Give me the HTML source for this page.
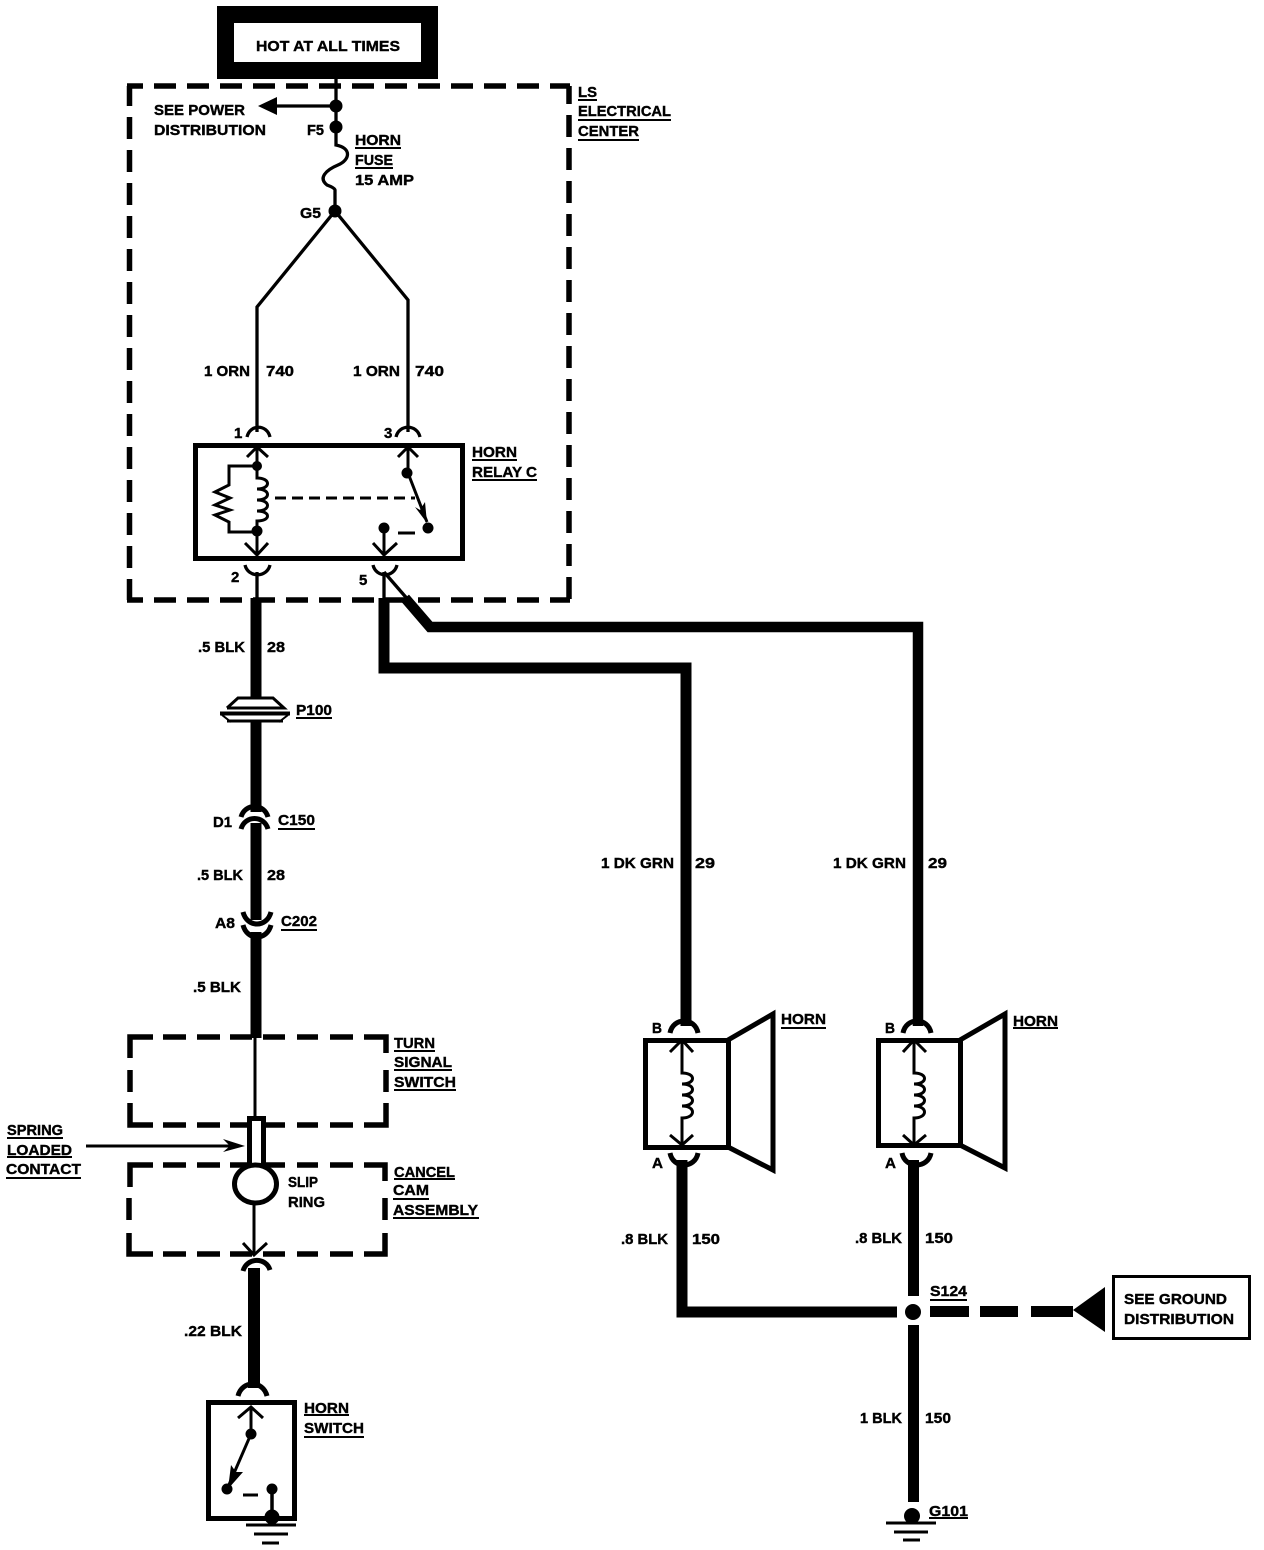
<!DOCTYPE html>
<html><head><meta charset="utf-8"><style>
html,body{margin:0;padding:0;background:#fff}
svg{display:block}
text{font-family:"Liberation Sans",sans-serif;font-weight:bold;font-size:15px;fill:#000;stroke:#000;stroke-width:.4px}
.n{fill:none;stroke:#000;stroke-linejoin:miter}
</style></head><body>
<svg xmlns="http://www.w3.org/2000/svg" width="1264" height="1550" viewBox="0 0 1264 1550">
<rect width="1264" height="1550" fill="#fff"/>

<!-- Hot box -->
<rect x="217" y="6" width="221" height="73"/>
<rect x="234" y="23" width="187" height="39" fill="#fff"/>

<!-- LS Electrical center dashed -->
<g class="n" stroke-width="5.5" fill="none" stroke="#000">
<path d="M127 86H570" stroke-dasharray="22 11" stroke-dashoffset="6"/>
<path d="M127 600H570" stroke-dasharray="22 11" stroke-dashoffset="6"/>
<path d="M129.500 86V600" stroke-dasharray="22 11" stroke-dashoffset="2"/>
<path d="M569 86V600" stroke-dasharray="22 11" stroke-dashoffset="4"/>
</g>

<!-- Feed -->
<g class="n" stroke-width="3.300" fill="none" stroke="#000">
<path d="M336 79V145C352 148 350 160 338 165C326 170 318 178 327 185Q335 188 335 190V211"/>
<path d="M336 106H272"/>
<path d="M257 432V307L335 211L408 300V432"/>
</g>
<polygon points="258,106 277,97 277,115"/>
<circle cx="336" cy="106" r="6.500"/>
<circle cx="336" cy="127" r="6.500"/>
<circle cx="335" cy="211" r="6.500"/>

<!-- Relay connectors -->
<g class="n" stroke-width="3.300" fill="none" stroke="#000">
<path d="M247 437C250 424 267 424 270 437"/>
<path d="M396 437C399 424 417 424 420 437"/>
<path d="M245 565C248 578 267 578 270 565"/>
<path d="M373 565C376 578 394 578 397 565"/>
<path d="M257 572V600"/>
<path d="M384 572V600"/>
<path d="M384 572L410 602"/>
</g>

<!-- Relay -->
<rect class="n" x="195.500" y="445.500" width="267" height="113" stroke-width="5" fill="none" stroke="#000"/>
<g class="n" stroke-width="3" fill="none" stroke="#000">
<path d="M247 457L257 447L268 457M257 447V466"/>
<path d="M257 466H229V485L215 492L230 498L215 505L230 510L215 515L229 522V532H257"/>
<path d="M257 466V478c14 0 14 11 0 11c14 0 14 11 0 11c14 0 14 11 0 11c14 0 14 10 0 10V555"/>
<path d="M245 543L257 555L268 543"/>
<path d="M275 498H415" stroke-dasharray="11 6"/>
<path d="M398 457L408 447L418 457M408 447V473L427 522"/>
<path d="M398 533H415"/>
<path d="M384 528V555M373 543L384 555L397 543"/>
</g>
<polygon points="415,507 427,523 425,502 420,510"/>
<circle cx="257" cy="466" r="5"/>
<circle cx="257" cy="531" r="5.500"/>
<circle cx="407" cy="473" r="5.500"/>
<circle cx="428" cy="528" r="5.500"/>
<circle cx="384" cy="528" r="5.500"/>

<!-- Thick wires -->
<g class="n" fill="none" stroke="#000" stroke-width="11">
<path d="M256 598V697"/>
<path d="M256 722V812"/>
<path d="M256 823V920"/>
<path d="M256 932V1038"/>
<path d="M384 598V668H686V1026"/>
<path d="M405 598L430 627H918V1026" stroke-width="10.500"/>
<path d="M254 1268V1388" stroke-width="12"/>
<path d="M682 1160V1312H897"/>
<path d="M913.500 1160V1296"/>
<path d="M913.500 1325V1502"/>
<path d="M930 1311.500H969M980 1311.500H1018M1031 1311.500H1073"/>
</g>

<!-- P100 -->
<g class="n" fill="none" stroke="#000" stroke-width="3">
<path d="M227 708L238 698H273L284 708H227" fill="#fff"/>
<path d="M220 713.500H290" stroke-width="4"/>
<path d="M227 721H283"/>
<path d="M222 715L231 722M288 715L279 722" stroke-width="2"/>
</g>

<!-- C150 / C202 -->
<g class="n" fill="none" stroke="#000" stroke-width="5">
<path d="M241 817C245 803 264 803 268 817"/>
<path d="M241 829C245 815 264 815 268 829"/>
<path d="M243 912C247 928 267 928 271 912"/>
<path d="M243 925C247 941 267 941 271 925"/>
</g>

<!-- Turn signal switch box -->
<g class="n" fill="none" stroke="#000" stroke-width="5.500">
<path d="M130 1058V1037H153M163 1037H186M197 1037H220M230 1037H252M263 1037H285M297 1037H318M330 1037H353M364 1037H386V1053"/>
<path d="M130 1070V1092M386 1070V1092"/>
<path d="M130 1103V1125H153M163 1125H186M197 1125H220M230 1125H252M263 1125H285M297 1125H318M330 1125H353M364 1125H386V1103"/>
<path d="M130 1187V1165H153M163 1165H186M197 1165H220M230 1165H252M263 1165H285M297 1165H318M330 1165H353M364 1165H385V1181"/>
<path d="M129 1198V1220M385 1198V1220"/>
<path d="M129 1233V1254H153M163 1254H186M197 1254H220M230 1254H252M263 1254H285M297 1254H318M330 1254H353M364 1254H385V1233"/>
</g>
<path class="n" d="M255 1038V1117" stroke-width="3" fill="none" stroke="#000"/>
<rect x="249.500" y="1118.500" width="14" height="50" fill="#fff" stroke="#000" stroke-width="5"/>
<ellipse cx="255.500" cy="1184" rx="21" ry="19" fill="#fff" stroke="#000" stroke-width="5"/>
<path class="n" d="M86 1146H232" stroke-width="3" fill="none" stroke="#000"/>
<polygon points="245,1146 223,1139 230,1146 223,1152"/>
<g class="n" fill="none" stroke="#000" stroke-width="3">
<path d="M254 1204V1254M243 1243L254 1255L267 1243"/>
</g>
<path class="n" d="M243 1271C247 1257 266 1257 270 1270" stroke-width="5" fill="none" stroke="#000"/>

<!-- Horn switch -->
<path class="n" d="M238 1396C242 1380 263 1380 267 1396" stroke-width="5" fill="none" stroke="#000"/>
<rect class="n" x="208.500" y="1402.500" width="86" height="116" stroke-width="5" fill="none" stroke="#000"/>
<g class="n" fill="none" stroke="#000" stroke-width="3">
<path d="M238 1418L251 1407L263 1418M251 1407V1434L228 1487"/>
<path d="M243 1495H258"/>
<path d="M272 1489V1517" stroke-width="3.500"/>
<path d="M246 1525H296M254 1534H288M262 1543H279"/>
</g>
<polygon points="231,1465 236,1472 243,1472 228,1489"/>
<circle cx="251" cy="1434" r="5.500"/>
<circle cx="227" cy="1489" r="5.500"/>
<circle cx="272" cy="1489" r="5.500"/>
<circle cx="272" cy="1517" r="7.500"/>

<!-- Horn 1 -->
<g class="n" fill="none" stroke="#000" stroke-width="5">
<path d="M670 1033C673 1017 695 1017 698 1033"/>
<path d="M670 1153C673 1169 695 1169 698 1153"/>
<rect x="645.500" y="1040.500" width="83" height="107"/>
<path d="M728 1040L773 1014V1170L728 1147"/>
</g>
<g class="n" fill="none" stroke="#000" stroke-width="3">
<path d="M670 1052L682 1040L693 1052"/>
<path d="M682 1040V1073c14 0 14 11 0 11c14 0 14 11 0 11c14 0 14 11 0 11c14 0 14 12 0 12V1145"/>
<path d="M670 1135L682 1145L693 1135"/>
</g>

<!-- Horn 2 -->
<g class="n" fill="none" stroke="#000" stroke-width="5">
<path d="M903 1033C906 1017 928 1017 931 1033"/>
<path d="M902 1153C905 1169 928 1169 931 1153"/>
<rect x="878.500" y="1040.500" width="82" height="105"/>
<path d="M960 1040L1005 1014V1168L960 1145"/>
</g>
<g class="n" fill="none" stroke="#000" stroke-width="3">
<path d="M903 1052L914 1040L926 1052"/>
<path d="M914 1040V1073c14 0 14 11 0 11c14 0 14 11 0 11c14 0 14 11 0 11c14 0 14 12 0 12V1145"/>
<path d="M903 1135L914 1145L926 1135"/>
</g>

<!-- S124 / Ground -->
<circle cx="913" cy="1312" r="8"/>
<polygon points="1073,1310 1105,1287 1105,1332"/>
<rect x="1113.500" y="1276.500" width="136" height="62" fill="#fff" stroke="#000" stroke-width="3"/>
<circle cx="912" cy="1516" r="8"/>
<path class="n" d="M886 1523H936M894 1532H928M903 1540H920" stroke-width="3" fill="none" stroke="#000"/>

<!-- Underlines -->
<path class="n" fill="none" stroke="#000" stroke-width="2" d="M355 148H401M355 168H393M578 100H597M578 120H671M578 140H639M472 460H517M472 480H537M296 718H332M278 829H315M281 930H317M394 1051H435M394 1070H452M394 1090H456M7 1138H63M7 1157H72M6 1178H81M394 1179H455M393 1199H429M393 1218H479M304 1415H349M304 1437H364M781 1028H826M1013 1028H1058M930 1300H967M929 1518H968"/>

<!-- Text -->
<text x="256" y="51" textLength="144" lengthAdjust="spacingAndGlyphs">HOT AT ALL TIMES</text>
<text x="154" y="115" textLength="91" lengthAdjust="spacingAndGlyphs">SEE POWER</text>
<text x="154" y="135" textLength="112" lengthAdjust="spacingAndGlyphs">DISTRIBUTION</text>
<text x="307" y="135" textLength="17" lengthAdjust="spacingAndGlyphs">F5</text>
<text x="355" y="145" textLength="46" lengthAdjust="spacingAndGlyphs">HORN</text>
<text x="355" y="165" textLength="38" lengthAdjust="spacingAndGlyphs">FUSE</text>
<text x="355" y="185" textLength="59" lengthAdjust="spacingAndGlyphs">15 AMP</text>
<text x="300" y="218" textLength="21" lengthAdjust="spacingAndGlyphs">G5</text>
<text x="578" y="97" textLength="19" lengthAdjust="spacingAndGlyphs">LS</text>
<text x="578" y="116" textLength="93" lengthAdjust="spacingAndGlyphs">ELECTRICAL</text>
<text x="578" y="136" textLength="61" lengthAdjust="spacingAndGlyphs">CENTER</text>
<text x="204" y="376" textLength="46" lengthAdjust="spacingAndGlyphs">1 ORN</text>
<text x="266" y="376" textLength="28" lengthAdjust="spacingAndGlyphs">740</text>
<text x="353" y="376" textLength="47" lengthAdjust="spacingAndGlyphs">1 ORN</text>
<text x="415" y="376" textLength="29" lengthAdjust="spacingAndGlyphs">740</text>
<text x="234" y="438">1</text>
<text x="384" y="438">3</text>
<text x="472" y="457" textLength="45" lengthAdjust="spacingAndGlyphs">HORN</text>
<text x="472" y="477" textLength="65" lengthAdjust="spacingAndGlyphs">RELAY C</text>
<text x="231" y="582">2</text>
<text x="359" y="585">5</text>
<text x="198" y="652" textLength="47" lengthAdjust="spacingAndGlyphs">.5 BLK</text>
<text x="267" y="652" textLength="18" lengthAdjust="spacingAndGlyphs">28</text>
<text x="296" y="715" textLength="36" lengthAdjust="spacingAndGlyphs">P100</text>
<text x="213" y="827" textLength="19" lengthAdjust="spacingAndGlyphs">D1</text>
<text x="278" y="825" textLength="37" lengthAdjust="spacingAndGlyphs">C150</text>
<text x="197" y="880" textLength="46" lengthAdjust="spacingAndGlyphs">.5 BLK</text>
<text x="267" y="880" textLength="18" lengthAdjust="spacingAndGlyphs">28</text>
<text x="215" y="928" textLength="20" lengthAdjust="spacingAndGlyphs">A8</text>
<text x="281" y="926" textLength="36" lengthAdjust="spacingAndGlyphs">C202</text>
<text x="193" y="992" textLength="48" lengthAdjust="spacingAndGlyphs">.5 BLK</text>
<text x="394" y="1048" textLength="41" lengthAdjust="spacingAndGlyphs">TURN</text>
<text x="394" y="1067" textLength="58" lengthAdjust="spacingAndGlyphs">SIGNAL</text>
<text x="394" y="1087" textLength="62" lengthAdjust="spacingAndGlyphs">SWITCH</text>
<text x="7" y="1135" textLength="56" lengthAdjust="spacingAndGlyphs">SPRING</text>
<text x="7" y="1155" textLength="65" lengthAdjust="spacingAndGlyphs">LOADED</text>
<text x="6" y="1174" textLength="75" lengthAdjust="spacingAndGlyphs">CONTACT</text>
<text x="288" y="1187" textLength="30" lengthAdjust="spacingAndGlyphs">SLIP</text>
<text x="288" y="1207" textLength="37" lengthAdjust="spacingAndGlyphs">RING</text>
<text x="394" y="1177" textLength="61" lengthAdjust="spacingAndGlyphs">CANCEL</text>
<text x="393" y="1195" textLength="36" lengthAdjust="spacingAndGlyphs">CAM</text>
<text x="393" y="1215" textLength="85" lengthAdjust="spacingAndGlyphs">ASSEMBLY</text>
<text x="184" y="1336" textLength="58" lengthAdjust="spacingAndGlyphs">.22 BLK</text>
<text x="304" y="1413" textLength="45" lengthAdjust="spacingAndGlyphs">HORN</text>
<text x="304" y="1433" textLength="60" lengthAdjust="spacingAndGlyphs">SWITCH</text>
<text x="601" y="868" textLength="73" lengthAdjust="spacingAndGlyphs">1 DK GRN</text>
<text x="695" y="868" textLength="20" lengthAdjust="spacingAndGlyphs">29</text>
<text x="833" y="868" textLength="73" lengthAdjust="spacingAndGlyphs">1 DK GRN</text>
<text x="928" y="868" textLength="19" lengthAdjust="spacingAndGlyphs">29</text>
<text x="781" y="1024" textLength="45" lengthAdjust="spacingAndGlyphs">HORN</text>
<text x="1013" y="1026" textLength="45" lengthAdjust="spacingAndGlyphs">HORN</text>
<text x="652" y="1033" textLength="10" lengthAdjust="spacingAndGlyphs">B</text>
<text x="652" y="1168" textLength="11" lengthAdjust="spacingAndGlyphs">A</text>
<text x="885" y="1033" textLength="10" lengthAdjust="spacingAndGlyphs">B</text>
<text x="885" y="1168" textLength="11" lengthAdjust="spacingAndGlyphs">A</text>
<text x="621" y="1244" textLength="47" lengthAdjust="spacingAndGlyphs">.8 BLK</text>
<text x="692" y="1244" textLength="28" lengthAdjust="spacingAndGlyphs">150</text>
<text x="855" y="1243" textLength="47" lengthAdjust="spacingAndGlyphs">.8 BLK</text>
<text x="925" y="1243" textLength="28" lengthAdjust="spacingAndGlyphs">150</text>
<text x="860" y="1423" textLength="42" lengthAdjust="spacingAndGlyphs">1 BLK</text>
<text x="925" y="1423" textLength="26" lengthAdjust="spacingAndGlyphs">150</text>
<text x="930" y="1296" textLength="37" lengthAdjust="spacingAndGlyphs">S124</text>
<text x="929" y="1516" textLength="39" lengthAdjust="spacingAndGlyphs">G101</text>
<text x="1124" y="1304" textLength="103" lengthAdjust="spacingAndGlyphs">SEE GROUND</text>
<text x="1124" y="1324" textLength="110" lengthAdjust="spacingAndGlyphs">DISTRIBUTION</text>
</svg>
</body></html>
